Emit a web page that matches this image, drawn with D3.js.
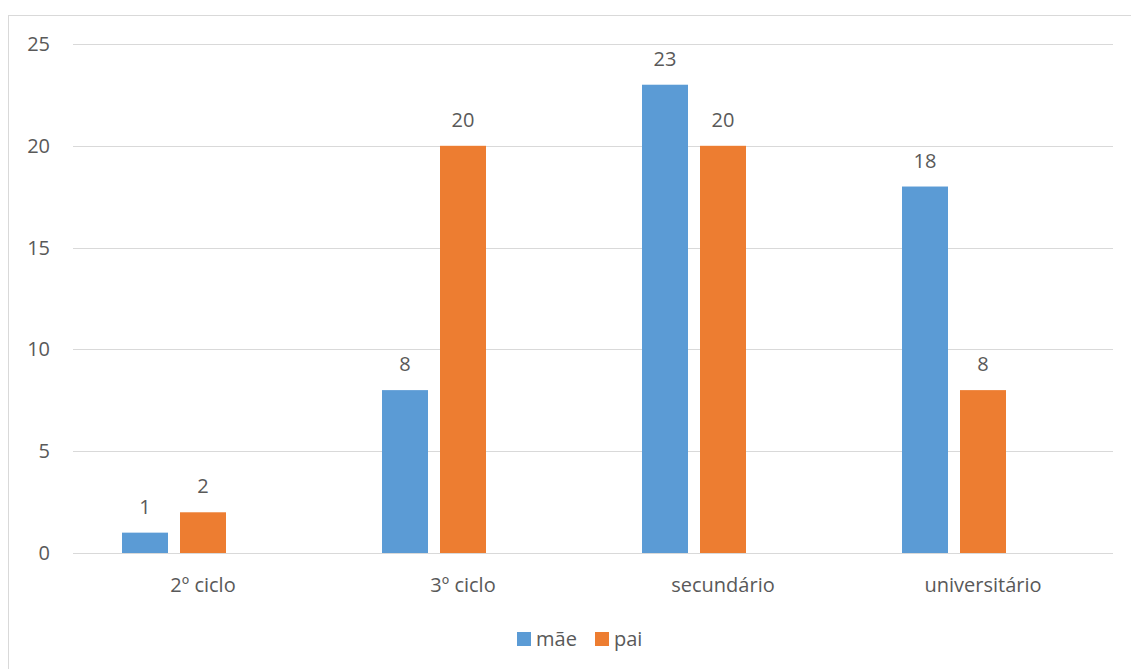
<!DOCTYPE html>
<html>
<head>
<meta charset="utf-8">
<script src="https://cdn.jsdelivr.net/npm/d3@7"></script>
<style>
  html, body { margin: 0; padding: 0; background: #fff; }
  svg { display: block; }
  text { font-family: "Open Sans", Lato, sans-serif; fill: #595959; }
</style>
</head>
<body>
<svg id="chart" width="1131" height="669"></svg>
<script>
// Education level of parents
const categories = ["2º ciclo", "3º ciclo", "secundário", "universitário"];
const seriesNames = ["mãe", "pai"];
const maeValues = [1, 8, 23, 18];
const paiValues = [2, 20, 20, 8];
const yTicks = [0, 5, 10, 15, 20, 25];
const colors = ["#5B9BD5", "#ED7D31"];

const svg = d3.select("#chart");
const W = 1131, H = 669;
const plot = { left: 73, right: 1113, top: 44, bottom: 553 };
const fontSize = 20;

// outer frame
svg.append("rect")
  .attr("x", 8.5).attr("y", 15.5)
  .attr("width", W + 10).attr("height", H + 10)
  .attr("fill", "#fff").attr("stroke", "#D9D9D9").attr("stroke-width", 1);

const x0 = d3.scaleBand()
  .domain(categories)
  .range([plot.left, plot.right])
  .paddingInner(98 / 260)
  .paddingOuter(49 / 260);

// three slots per group; the third slot stays empty
const x1 = d3.scaleBand()
  .domain(["mãe", "pai", "_"])
  .range([0, x0.bandwidth()])
  .paddingInner(12 / 58)
  .paddingOuter(0);

const y = d3.scaleLinear().domain([0, 25]).range([plot.bottom, plot.top]);

// gridlines
svg.append("g").selectAll("line")
  .data(yTicks)
  .join("line")
  .attr("x1", plot.left).attr("x2", plot.right)
  .attr("y1", d => Math.round(y(d)) + 0.5)
  .attr("y2", d => Math.round(y(d)) + 0.5)
  .attr("stroke", "#D9D9D9").attr("stroke-width", 1.2);

// y tick labels
svg.append("g").selectAll("text")
  .data(yTicks)
  .join("text")
  .attr("x", 50)
  .attr("y", d => y(d))
  .attr("dy", "0.35em")
  .attr("text-anchor", "end")
  .attr("font-size", fontSize)
  .text(d => d);

const series = [maeValues, paiValues];
const groups = svg.append("g");
series.forEach((vals, si) => {
  const name = seriesNames[si];
  groups.append("g").selectAll("rect")
    .data(vals.map((v, i) => ({ cat: categories[i], v })))
    .join("rect")
    .attr("x", d => x0(d.cat) + x1(name))
    .attr("width", x1.bandwidth())
    .attr("y", d => y(d.v))
    .attr("height", d => y(0) - y(d.v))
    .attr("fill", colors[si]);

  groups.append("g").selectAll("text")
    .data(vals.map((v, i) => ({ cat: categories[i], v })))
    .join("text")
    .attr("x", d => x0(d.cat) + x1(name) + x1.bandwidth() / 2)
    .attr("y", d => y(d.v) - 19)
    .attr("text-anchor", "middle")
    .attr("font-size", fontSize)
    .text(d => d.v);
});

// category labels
svg.append("g").selectAll("text")
  .data(categories)
  .join("text")
  .attr("x", d => x0(d) + x0.bandwidth() / 2)
  .attr("y", 592)
  .attr("text-anchor", "middle")
  .attr("font-size", fontSize)
  .text(d => d);

// legend
const legendItems = [
  { name: "mãe", color: colors[0], x: 517 },
  { name: "pai", color: colors[1], x: 595 }
];
const lg = svg.append("g");
lg.selectAll("rect")
  .data(legendItems)
  .join("rect")
  .attr("x", d => d.x).attr("y", 632)
  .attr("width", 14).attr("height", 14)
  .attr("fill", d => d.color);
lg.selectAll("text")
  .data(legendItems)
  .join("text")
  .attr("x", d => d.x + 19)
  .attr("y", 646)
  .attr("font-size", fontSize)
  .text(d => d.name);
</script>
</body>
</html>
